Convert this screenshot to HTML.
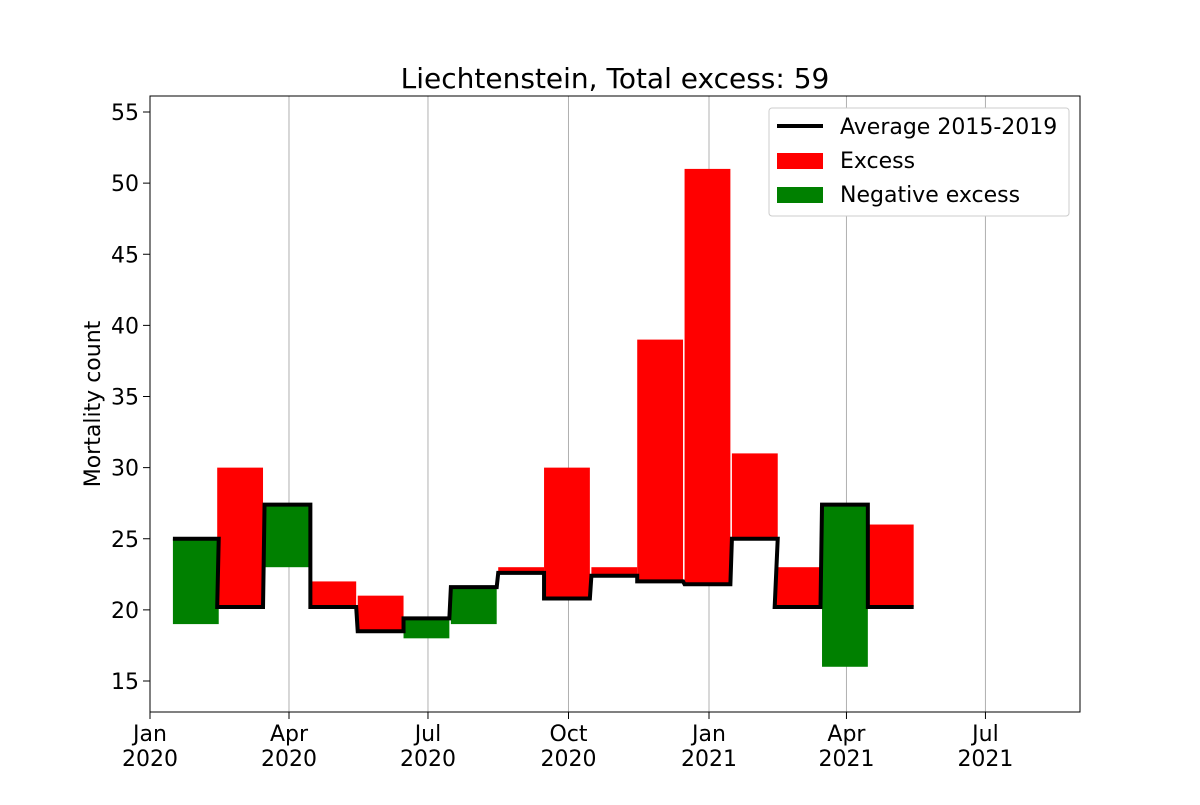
<!DOCTYPE html>
<html><head><meta charset="utf-8"><style>
body{margin:0;background:#fff}
svg text{font-family:"DejaVu Sans","Liberation Sans",sans-serif;fill:#000}
</style></head><body>
<svg id="chart" width="1200" height="800">
<rect x="0" y="0" width="1200" height="800" fill="#fff"/>
<g id="grid"></g><g id="bars"></g><g id="line"></g><g id="axes"></g>
<text x="615" y="88" font-size="28" text-anchor="middle">Liechtenstein, Total excess: 59</text>
<text transform="translate(100,404) rotate(-90)" font-size="22" text-anchor="middle">Mortality count</text>
<g>
<rect x="769" y="108" width="300" height="108" fill="#fff" stroke="#ccc" rx="3"/>
<line x1="777" y1="126" x2="823" y2="126" stroke="#000" stroke-width="4"/>
<text x="840" y="134" font-size="22">Average 2015-2019</text>
<rect x="777" y="153" width="46" height="16" fill="#f00"/>
<text x="840" y="168" font-size="22">Excess</text>
<rect x="777" y="187" width="46" height="16" fill="#008000"/>
<text x="840" y="202" font-size="22">Negative excess</text>
</g>
</svg>
<script>
const months=["2020-01-31","2020-02-29","2020-03-31","2020-04-30","2020-05-31","2020-06-30","2020-07-31","2020-08-31","2020-09-30","2020-10-31","2020-11-30","2020-12-31","2021-01-31","2021-02-28","2021-03-31","2021-04-30"];
const actual=[19,30,23,22,21,18,19,23,30,23,39,51,31,23,16,26];
const average=[25,20.2,27.4,20.2,18.5,19.4,21.6,22.6,20.8,22.4,22,21.8,25,20.2,27.4,20.2];
const yTicks=[15,20,25,30,35,40,45,50,55];
const xTickDates=["2020-01-01","2020-04-01","2020-07-01","2020-10-01","2021-01-01","2021-04-01","2021-07-01"];
const xTickLabels=[["Jan","2020"],["Apr","2020"],["Jul","2020"],["Oct","2020"],["Jan","2021"],["Apr","2021"],["Jul","2021"]];
const L=150,R=1080,T=96,B=712;
const d0=Date.UTC(2020,0,1),DAY=86400000,PXD=559/366;
function xs(s){const p=s.split('-');return L+(Date.UTC(+p[0],+p[1]-1,+p[2])-d0)/DAY*PXD;}
function ys(v){return 681-(v-15)*(569/40);}
const NS="http://www.w3.org/2000/svg";
function mk(tag,at,parent){const e=document.createElementNS(NS,tag);for(const k in at)e.setAttribute(k,at[k]);document.getElementById(parent).appendChild(e);return e;}
const half=15*PXD;
xTickDates.forEach((d,i)=>{const x=xs(d);
 const g=mk('line',{x1:x,x2:x,y1:T,y2:B,stroke:'#b0b0b0','stroke-width':1},'grid');
 
 
 const t=mk('line',{x1:x,x2:x,y1:B,y2:B+7,stroke:'#000','stroke-width':1},'axes');
 
 
 const tx=mk('text',{x:x,y:B+29,'font-size':22,'text-anchor':'middle'},'axes');tx.textContent=xTickLabels[i][0];
 
 
 const ty=mk('text',{x:x,y:B+54,'font-size':22,'text-anchor':'middle'},'axes');ty.textContent=xTickLabels[i][1];
 
 
});
yTicks.forEach(v=>{const y=ys(v);
 const t=mk('line',{x1:L-7,x2:L,y1:y,y2:y,stroke:'#000'},'axes');
 
 
 const tx=mk('text',{x:L-11,y:y+8,'font-size':22,'text-anchor':'end'},'axes');tx.textContent=v;
 
 
});
let pts=[];
months.forEach((m,i)=>{const c=xs(m),x0=c-half,x1=c+half;
 const ya=ys(actual[i]),yb=ys(average[i]);
 const r=mk('rect',{x:x0,width:x1-x0,y:Math.min(ya,yb),height:Math.abs(ya-yb),fill:actual[i]>=average[i]?'#f00':'#008000'},'bars');
 
 
 pts.push(x0+','+yb,x1+','+yb);
});
const pl=mk('polyline',{points:pts.join(' '),fill:'none',stroke:'#000','stroke-width':4},'line');


const fr=mk('rect',{x:L,y:T,width:R-L,height:B-T,fill:'none',stroke:'#000','stroke-width':1},'axes');


</script>
</body></html>
